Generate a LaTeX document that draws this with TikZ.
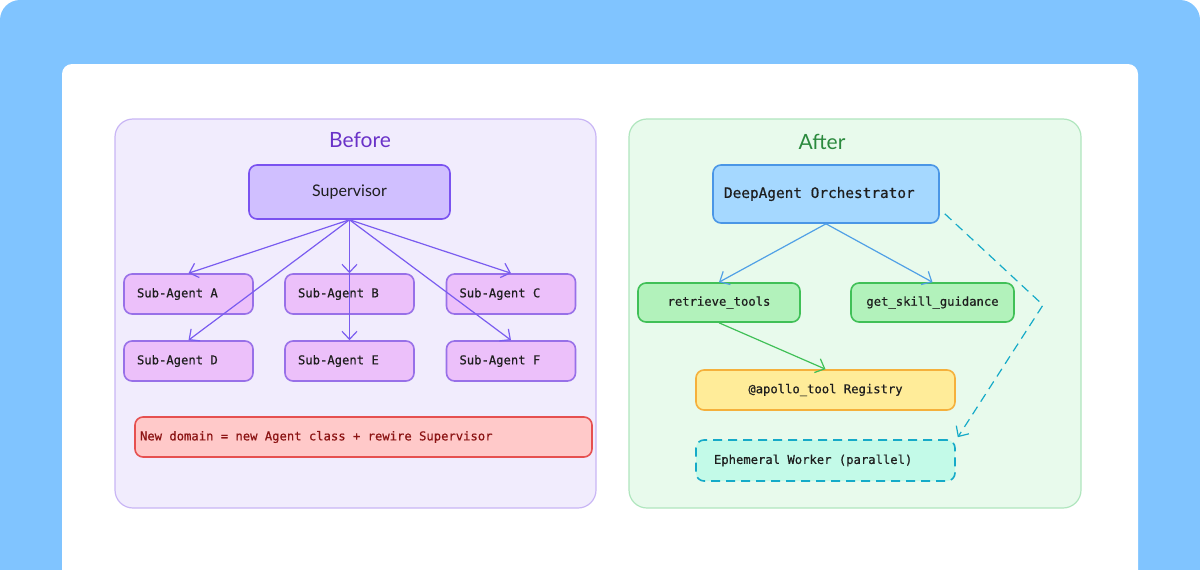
\documentclass[tikz,border=0pt]{standalone}
\usepackage{fontspec}
\setmainfont{Lato}
\newfontfamily\monof[WordSpace={1,0,0},FakeBold=0.6]{DejaVu Sans Mono}
\newcommand\fixsp{\spaceskip=0pt\xspaceskip=0pt\relax}
\usetikzlibrary{arrows.meta,calc}
\definecolor{bgblue}{RGB}{128,196,255}
\definecolor{befFill}{RGB}{241,236,253}
\definecolor{befLine}{RGB}{201,182,245}
\definecolor{befTitle}{RGB}{106,50,200}
\definecolor{supFill}{RGB}{208,191,255}
\definecolor{supLine}{RGB}{122,82,240}
\definecolor{subFill}{RGB}{236,192,250}
\definecolor{subLine}{RGB}{152,112,232}
\definecolor{purArrow}{RGB}{122,92,240}
\definecolor{redFill}{RGB}{255,201,201}
\definecolor{redLine}{RGB}{230,80,80}
\definecolor{redText}{RGB}{140,20,20}
\definecolor{aftFill}{RGB}{232,250,236}
\definecolor{aftLine}{RGB}{176,230,190}
\definecolor{aftTitle}{RGB}{43,138,62}
\definecolor{orFill}{RGB}{165,216,255}
\definecolor{orLine}{RGB}{74,150,230}
\definecolor{grFill}{RGB}{178,242,187}
\definecolor{grLine}{RGB}{64,192,87}
\definecolor{yeFill}{RGB}{255,236,153}
\definecolor{yeLine}{RGB}{245,176,60}
\definecolor{cyFill}{RGB}{195,250,232}
\definecolor{cyLine}{RGB}{21,170,200}
\definecolor{blArrow}{RGB}{80,160,230}
\definecolor{txt}{RGB}{30,30,30}
\tikzset{
  panel/.style={draw, line width=1.2pt, rounded corners=18pt},
  box/.style={draw, line width=1.6pt, rounded corners=8pt, inner ysep=0pt, text=txt},
  monotext/.style={font=\monof\fontsize{12.2}{14}\selectfont},
  sub/.style={box, monotext, fill=subFill, draw=subLine, minimum height=40pt, text width=103pt, inner xsep=13pt, align=left},
  garrow/.style={line width=1.2pt, -{Straight Barb[length=8pt,width=15pt]}},
}
\begin{document}
\begin{tikzpicture}[x=1pt,y=-1pt]
\useasboundingbox (0,0) rectangle (1200,570);
\clip (0,0) rectangle (1200,570);
\fill[white] (0,0) rectangle (1200,570);
\fill[bgblue, rounded corners=20pt] (0,0) rectangle (1200,620);
\fill[white, rounded corners=10pt] (62,64) rectangle (1138,620);

% Before panel
\draw[panel, fill=befFill, draw=befLine] (115,119) rectangle (596,508);
\node[text=befTitle, font=\fontsize{21}{24}\selectfont] (beftitle) at (360,140) {Before};
\node[box, fill=supFill, draw=supLine, minimum width=201pt, minimum height=54pt, font=\fontsize{16}{18}\selectfont] (sup) at (349.5,192) {Supervisor};
\node[sub] (a) at (188.5,294) {\fixsp Sub-Agent A};
\node[sub] (b) at (349.5,294) {\fixsp Sub-Agent B};
\node[sub] (c) at (511,294) {\fixsp Sub-Agent C};
\node[sub] (d) at (188.5,361) {\fixsp Sub-Agent D};
\node[sub] (e) at (349.5,361) {\fixsp Sub-Agent E};
\node[sub] (f) at (511,361) {\fixsp Sub-Agent F};
\node[box, monotext, fill=redFill, draw=redLine, text=redText, minimum height=40pt, text width=447pt, inner xsep=5pt, align=left] (red) at (363.5,437) {\fixsp New domain = new Agent class + rewire Supervisor};
\foreach \t in {a,b,c,d,e,f}
  \draw[garrow, draw=purArrow] (sup.south) -- (\t.north);

% After panel
\draw[panel, fill=aftFill, draw=aftLine] (629,119) rectangle (1081,508);
\node[text=aftTitle, font=\fontsize{21}{24}\selectfont] (afttitle) at (822,142) {After};
\node[box, fill=orFill, draw=orLine, font=\monof\fontsize{14.4}{17}\selectfont, minimum height=58pt, text width=204pt, inner xsep=11pt, align=left] (orch) at (826,194) {\fixsp DeepAgent Orchestrator};
\node[box, monotext, fill=grFill, draw=grLine, minimum width=162pt, minimum height=39pt] (rt) at (719,302.5) {retrieve\_tools};
\node[box, monotext, fill=grFill, draw=grLine, minimum width=163pt, minimum height=39pt] (gs) at (932.5,302.5) {get\_skill\_guidance};
\node[box, monotext, fill=yeFill, draw=yeLine, minimum width=259pt, minimum height=40pt] (reg) at (825.5,390) {@apollo\_tool Registry};
\node[box, monotext, fill=cyFill, draw=cyLine, dashed, dash pattern=on 9pt off 6pt, minimum height=41pt, text width=223pt, inner xsep=18pt, align=left] (eph) at (825.5,460.5) {\fixsp Ephemeral Worker (parallel)};

\draw[garrow, draw=blArrow] (orch.south) -- (rt.north);
\draw[garrow, draw=blArrow] (orch.south) -- (gs.north);
\draw[garrow, draw=grLine] (rt.south) -- (reg.north);
\coordinate (bend) at (1043,305);
\draw[garrow, draw=cyLine, dash pattern=on 9pt off 6pt] ($(orch.south east)+(5,-10)$) -- (bend) -- ($(eph.north east)+(2,-2)$);
\end{tikzpicture}
\end{document}
